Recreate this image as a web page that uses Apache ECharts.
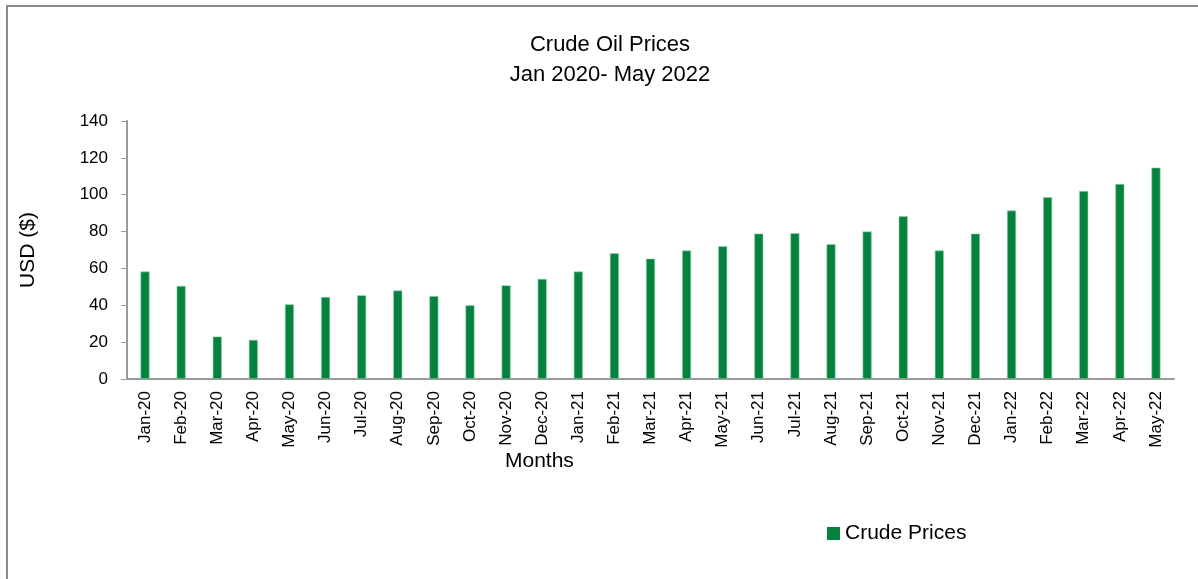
<!DOCTYPE html>
<html>
<head>
<meta charset="utf-8">
<script src="https://cdn.jsdelivr.net/npm/echarts@6/dist/echarts.min.js"></script>
<style>
  html, body { margin: 0; padding: 0; background: #fff; }
  #chart { width: 1198px; height: 579px; }
</style>
</head>
<body>
<div id="chart"></div>
<script>
// months on the x axis
const months = ['Jan-20','Feb-20','Mar-20','Apr-20','May-20','Jun-20','Jul-20','Aug-20','Sep-20','Oct-20','Nov-20','Dec-20',
  'Jan-21','Feb-21','Mar-21','Apr-21','May-21','Jun-21','Jul-21','Aug-21','Sep-21','Oct-21','Nov-21','Dec-21',
  'Jan-22','Feb-22','Mar-22','Apr-22','May-22'];
// crude prices
const crudePrices = [58.3, 50.5, 23.0, 21.2, 40.5, 44.5, 45.4, 48.0, 45.0, 40.0, 50.8, 54.3,
  58.3, 68.2, 65.3, 69.7, 72.0, 78.9, 79.1, 73.1, 80.0, 88.3, 69.7, 78.9,
  91.4, 98.6, 102.0, 105.8, 114.7];

const font = 'Liberation Sans, Arial, sans-serif';
const chart = echarts.init(document.getElementById('chart'));

chart.setOption({
  animation: false,
  textStyle: { fontFamily: font },
  graphic: [
    // grey frame round the chart
    {
      type: 'rect',
      shape: { x: 7, y: 6, width: 1200, height: 580 },
      style: { fill: 'none', stroke: '#8c8c8c', lineWidth: 2 }
    },
    // x axis title sits left of centre in the original
    {
      type: 'text',
      left: 505,
      top: 451,
      style: { text: 'Months', font: '21px ' + font, fill: '#000' }
    }
  ],
  title: {
    text: 'Crude Oil Prices\nJan 2020- May 2022',
    left: 605,
    textAlign: 'center',
    top: 25,
    textStyle: { fontFamily: font, fontSize: 22, fontWeight: 'normal', color: '#000', lineHeight: 30 }
  },
  legend: {
    left: 822,
    top: 518,
    itemWidth: 13,
    itemHeight: 13,
    icon: 'rect',
    itemStyle: { borderWidth: 0 },
    textStyle: { fontFamily: font, fontSize: 21, color: '#000' },
    data: ['Crude Prices']
  },
  grid: { left: 127, right: 24, top: 121, bottom: 200 },
  xAxis: {
    type: 'category',
    data: months,
    axisLine: { lineStyle: { color: '#9a9a9a', width: 2 } },
    axisTick: { show: false },
    axisLabel: { rotate: 90, fontSize: 17, color: '#000', margin: 12, fontFamily: font }
  },
  yAxis: {
    type: 'value',
    min: 0,
    max: 140,
    interval: 20,
    name: 'USD ($)',
    nameLocation: 'middle',
    nameGap: 88,
    nameTextStyle: { fontFamily: font, fontSize: 21, color: '#000' },
    axisLine: { show: true, lineStyle: { color: '#9a9a9a', width: 2 } },
    axisTick: { show: true, length: 6, lineStyle: { color: '#9a9a9a', width: 1 } },
    splitLine: { show: false },
    axisLabel: { fontSize: 17, color: '#000', margin: 19, fontFamily: font }
  },
  series: [{
    name: 'Crude Prices',
    type: 'bar',
    data: crudePrices,
    barWidth: 9,
    itemStyle: { color: '#05833e', borderColor: '#8fd0a8', borderWidth: 0.6 }
  }]
});
</script>
</body>
</html>
